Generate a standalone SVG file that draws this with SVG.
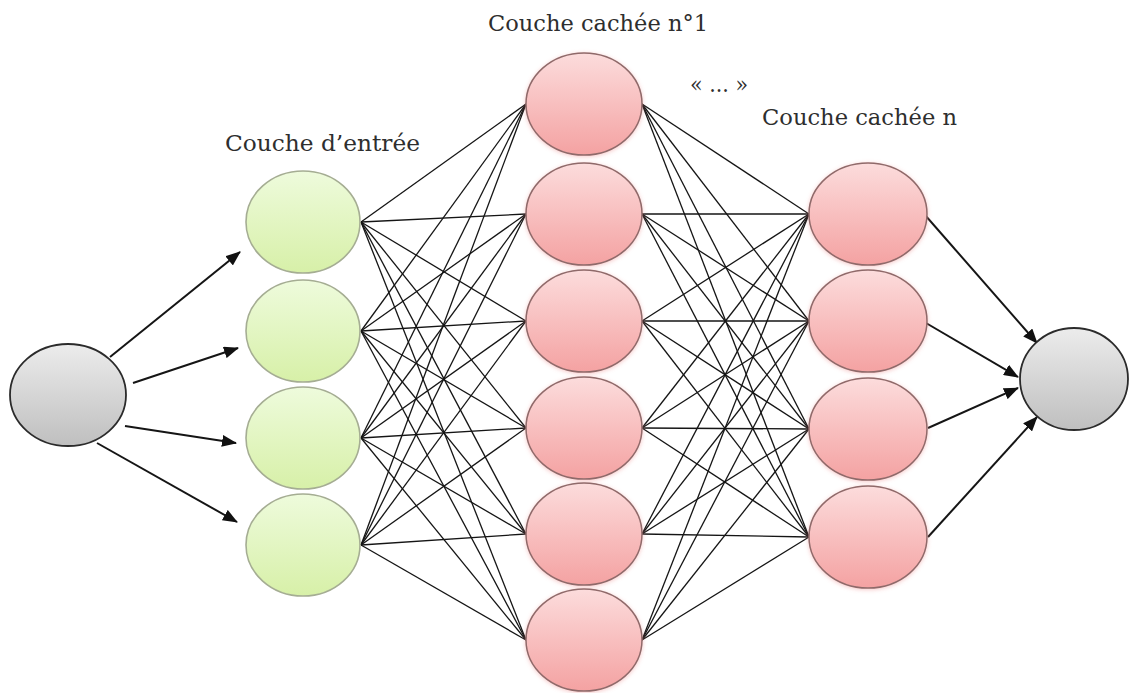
<svg xmlns="http://www.w3.org/2000/svg" width="1129" height="693" viewBox="0 0 1129 693">
<style>
.lbl{font-family:"DejaVu Serif","Liberation Serif",serif;font-size:23px;fill:#2e2e2e}
.edge{stroke:#151515;stroke-width:1.3;fill:none}
.arr{stroke:#151515;stroke-width:2;fill:none;marker-end:url(#ah)}
.gray{fill:url(#gGray);stroke:#2b2b2b;stroke-width:1.8}
.green{fill:url(#gGreen);stroke:#a5ad93;stroke-width:1.6}
.pink{fill:url(#gPink);stroke:#8f6a6a;stroke-width:1.5;filter:url(#sh)}
</style>
<defs>
<linearGradient id="gGray" x1="0" y1="0" x2="0" y2="1"><stop offset="0" stop-color="#ececec"/><stop offset="1" stop-color="#bfbfbf"/></linearGradient>
<linearGradient id="gGreen" x1="0" y1="0" x2="0" y2="1"><stop offset="0" stop-color="#eefbdc"/><stop offset="1" stop-color="#d7f0a8"/></linearGradient>
<linearGradient id="gPink" x1="0" y1="0" x2="0" y2="1"><stop offset="0" stop-color="#fcdcdc"/><stop offset="1" stop-color="#f4a2a2"/></linearGradient>
<filter id="sh" x="-20%" y="-20%" width="140%" height="140%"><feDropShadow dx="0" dy="1" stdDeviation="2" flood-color="#e88" flood-opacity="0.45"/></filter>
<marker id="ah" markerUnits="userSpaceOnUse" markerWidth="15" markerHeight="12" refX="14" refY="6" orient="auto"><path d="M0,0 L15,6 L0,12 z" fill="#111"/></marker>
</defs>
<g id="connectors">
<line class="edge" x1="361" y1="222" x2="526" y2="104"/><line class="edge" x1="361" y1="222" x2="526" y2="214"/><line class="edge" x1="361" y1="222" x2="526" y2="321"/><line class="edge" x1="361" y1="222" x2="526" y2="428"/><line class="edge" x1="361" y1="222" x2="526" y2="534"/><line class="edge" x1="361" y1="222" x2="526" y2="640"/>
<line class="edge" x1="361" y1="331" x2="526" y2="104"/><line class="edge" x1="361" y1="331" x2="526" y2="214"/><line class="edge" x1="361" y1="331" x2="526" y2="321"/><line class="edge" x1="361" y1="331" x2="526" y2="428"/><line class="edge" x1="361" y1="331" x2="526" y2="534"/><line class="edge" x1="361" y1="331" x2="526" y2="640"/>
<line class="edge" x1="361" y1="438" x2="526" y2="104"/><line class="edge" x1="361" y1="438" x2="526" y2="214"/><line class="edge" x1="361" y1="438" x2="526" y2="321"/><line class="edge" x1="361" y1="438" x2="526" y2="428"/><line class="edge" x1="361" y1="438" x2="526" y2="534"/><line class="edge" x1="361" y1="438" x2="526" y2="640"/>
<line class="edge" x1="361" y1="545" x2="526" y2="104"/><line class="edge" x1="361" y1="545" x2="526" y2="214"/><line class="edge" x1="361" y1="545" x2="526" y2="321"/><line class="edge" x1="361" y1="545" x2="526" y2="428"/><line class="edge" x1="361" y1="545" x2="526" y2="534"/><line class="edge" x1="361" y1="545" x2="526" y2="640"/>
<line class="edge" x1="642" y1="104" x2="809" y2="214"/><line class="edge" x1="642" y1="104" x2="809" y2="321"/><line class="edge" x1="642" y1="104" x2="809" y2="429"/><line class="edge" x1="642" y1="104" x2="809" y2="537"/>
<line class="edge" x1="642" y1="214" x2="809" y2="214"/><line class="edge" x1="642" y1="214" x2="809" y2="321"/><line class="edge" x1="642" y1="214" x2="809" y2="429"/><line class="edge" x1="642" y1="214" x2="809" y2="537"/>
<line class="edge" x1="642" y1="321" x2="809" y2="214"/><line class="edge" x1="642" y1="321" x2="809" y2="321"/><line class="edge" x1="642" y1="321" x2="809" y2="429"/><line class="edge" x1="642" y1="321" x2="809" y2="537"/>
<line class="edge" x1="642" y1="428" x2="809" y2="214"/><line class="edge" x1="642" y1="428" x2="809" y2="321"/><line class="edge" x1="642" y1="428" x2="809" y2="429"/><line class="edge" x1="642" y1="428" x2="809" y2="537"/>
<line class="edge" x1="642" y1="534" x2="809" y2="214"/><line class="edge" x1="642" y1="534" x2="809" y2="321"/><line class="edge" x1="642" y1="534" x2="809" y2="429"/><line class="edge" x1="642" y1="534" x2="809" y2="537"/>
<line class="edge" x1="642" y1="640" x2="809" y2="214"/><line class="edge" x1="642" y1="640" x2="809" y2="321"/><line class="edge" x1="642" y1="640" x2="809" y2="429"/><line class="edge" x1="642" y1="640" x2="809" y2="537"/>
<line class="arr" x1="110" y1="357" x2="240" y2="252"/>
<line class="arr" x1="133" y1="383" x2="238" y2="348"/>
<line class="arr" x1="125" y1="426" x2="236" y2="443"/>
<line class="arr" x1="97" y1="443" x2="237" y2="522"/>
<line class="arr" x1="925" y1="215" x2="1037" y2="343"/>
<line class="arr" x1="926" y1="323" x2="1018" y2="377"/>
<line class="arr" x1="928" y1="428" x2="1018" y2="388"/>
<line class="arr" x1="928" y1="537" x2="1037" y2="417"/>
</g>
<g id="input-source"><ellipse class="gray" cx="68" cy="395" rx="58" ry="51"/></g>
<g id="output"><ellipse class="gray" cx="1074" cy="379" rx="54" ry="51"/></g>
<g id="in1"><ellipse class="green" cx="303" cy="222" rx="57" ry="51"/></g>
<g id="in2"><ellipse class="green" cx="303" cy="331" rx="57" ry="51"/></g>
<g id="in3"><ellipse class="green" cx="303" cy="438" rx="57" ry="51"/></g>
<g id="in4"><ellipse class="green" cx="303" cy="545" rx="57" ry="51"/></g>
<g id="h1-1"><ellipse class="pink" cx="584" cy="104" rx="58" ry="51"/></g>
<g id="h1-2"><ellipse class="pink" cx="584" cy="214" rx="58" ry="51"/></g>
<g id="h1-3"><ellipse class="pink" cx="584" cy="321" rx="58" ry="51"/></g>
<g id="h1-4"><ellipse class="pink" cx="584" cy="428" rx="58" ry="51"/></g>
<g id="h1-5"><ellipse class="pink" cx="584" cy="534" rx="58" ry="51"/></g>
<g id="h1-6"><ellipse class="pink" cx="584" cy="640" rx="58" ry="51"/></g>
<g id="hn-1"><ellipse class="pink" cx="868" cy="214" rx="59" ry="51"/></g>
<g id="hn-2"><ellipse class="pink" cx="868" cy="321" rx="59" ry="51"/></g>
<g id="hn-3"><ellipse class="pink" cx="868" cy="429" rx="59" ry="51"/></g>
<g id="hn-4"><ellipse class="pink" cx="868" cy="537" rx="59" ry="51"/></g>
<g id="labels">
<text class="lbl" x="225" y="151" textLength="195" lengthAdjust="spacingAndGlyphs">Couche d’entrée</text>
<text class="lbl" x="488" y="31" textLength="220" lengthAdjust="spacingAndGlyphs">Couche cachée n°1</text>
<text class="lbl" x="690" y="92" textLength="58" lengthAdjust="spacingAndGlyphs">« ... »</text>
<text class="lbl" x="762" y="125" textLength="195" lengthAdjust="spacingAndGlyphs">Couche cachée n</text>
</g>
</svg>
